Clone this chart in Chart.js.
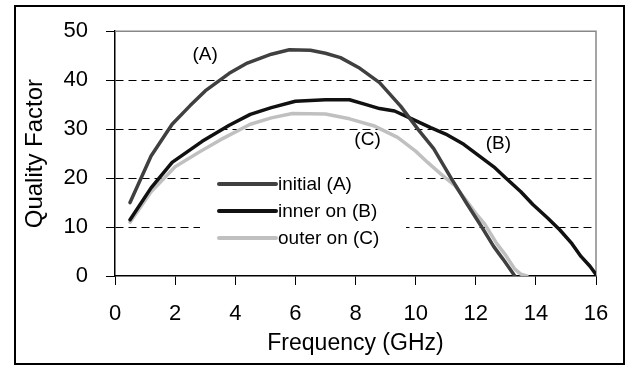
<!DOCTYPE html>
<html>
<head>
<meta charset="utf-8">
<script src="https://cdn.jsdelivr.net/npm/chart.js@4.4.1/dist/chart.umd.min.js"></script>
<style>
  body { margin: 0; background: #fff; }
  #wrap { width: 629px; height: 367px; }
</style>
</head>
<body>
<div id="wrap"><canvas id="myChart" width="629" height="367"></canvas></div>
<script>
// values
const freqA = [0.5, 1.2, 1.9, 2.5, 3.0, 3.8, 4.4, 5.2, 5.8, 6.5, 7.0, 7.5, 8.1, 8.8, 9.5, 10.1, 10.6, 11.2, 11.7, 12.2, 12.6, 12.9, 13.3];
const qA =    [15, 24.5, 31, 34.8, 37.8, 41.4, 43.5, 45.3, 46.2, 46.1, 45.5, 44.6, 42.6, 39.5, 34.7, 29.8, 26, 19.8, 14.8, 10, 6, 3.5, 0];

const freqB = [0.5, 1.2, 1.9, 2.9, 3.8, 4.5, 5.2, 6.0, 7.0, 7.8, 8.3, 8.8, 9.3, 9.8, 10.5, 11.0, 11.6, 12.1, 12.6, 13.0, 13.5, 13.9, 14.4, 14.8, 15.2, 15.5, 15.8, 16.0];
const qB =    [11.5, 18, 23.2, 27.5, 30.8, 33, 34.4, 35.7, 36, 36, 35.1, 34.2, 33.7, 32.3, 30.3, 29, 26.9, 24.6, 22.3, 20, 17.2, 14.6, 11.8, 9.4, 6.6, 4, 2, 0.3];

const freqC = [0.5, 1.2, 2.0, 2.8, 3.5, 4.5, 5.2, 5.9, 7.0, 7.8, 8.6, 9.4, 10.0, 10.4, 10.9, 11.3, 11.7, 12.0, 12.3, 12.7, 13.0, 13.3, 13.5, 13.7];
const qC =    [11, 17.2, 22.3, 25.3, 27.8, 31, 32.3, 33.2, 33.1, 32.1, 30.7, 28.3, 25.5, 23.2, 20.5, 18.5, 15.3, 12.8, 10.6, 6.6, 4.2, 1.4, 0.4, 0];

const seriesNames = ["initial (A)", "inner on (B)", "outer on (C)"];
const seriesColors = ["#404040", "#111111", "#c0c0c0"];

const xTicks = [0, 2, 4, 6, 8, 10, 12, 14, 16];
const yTicks = [0, 10, 20, 30, 40, 50];

// curve labels, in data units
const noteText = ["(A)", "(C)", "(B)"];
const noteX = [3.0, 8.4, 12.75];
const noteY = [45.2, 27.8, 27.0];

const FONT = "'Liberation Sans', Arial, sans-serif";

function toPoints(xs, ys) {
  return xs.map((x, i) => ({ x: x, y: ys[i] }));
}

const extras = {
  id: 'extras',
  beforeDatasetsDraw(chart) {
    const c = chart.ctx;
    const a = chart.chartArea;
    c.save();
    // gray top and right frame
    c.strokeStyle = '#888';
    c.lineWidth = 1.5;
    c.beginPath();
    c.moveTo(a.left, a.top);
    c.lineTo(a.right, a.top);
    c.lineTo(a.right, a.bottom);
    c.stroke();
    // legend box covers the grid
    c.fillStyle = '#fff';
    c.fillRect(200, 168, 206, 84);
    const rows = [184, 211, 238];
    c.font = '19px ' + FONT;
    c.textBaseline = 'middle';
    c.textAlign = 'left';
    seriesNames.forEach((name, i) => {
      c.strokeStyle = seriesColors[i];
      c.lineWidth = 4;
      c.lineCap = 'round';
      c.beginPath();
      c.moveTo(219, rows[i]);
      c.lineTo(276, rows[i]);
      c.stroke();
      c.fillStyle = '#000';
      c.fillText(name, 278, rows[i] + 1);
    });
    c.restore();
  },
  afterDatasetsDraw(chart) {
    const c = chart.ctx;
    const xs = chart.scales.x, ys = chart.scales.y;
    c.save();
    c.font = '19px ' + FONT;
    c.fillStyle = '#000';
    c.textAlign = 'center';
    c.textBaseline = 'middle';
    noteText.forEach((t, i) => {
      c.fillText(t, xs.getPixelForValue(noteX[i]), ys.getPixelForValue(noteY[i]));
    });
    c.restore();
  },
  afterDraw(chart) {
    const c = chart.ctx;
    c.save();
    c.strokeStyle = '#000';
    c.lineWidth = 2;
    c.strokeRect(15, 6, 609, 358);
    c.restore();
  }
};

const datasets = [
  toPoints(freqA, qA),
  toPoints(freqB, qB),
  toPoints(freqC, qC)
].map((pts, i) => ({
  label: seriesNames[i],
  data: pts,
  borderColor: seriesColors[i],
  backgroundColor: seriesColors[i],
  borderWidth: 3.5,
  pointRadius: 0,
  tension: 0,
  borderCapStyle: 'round',
  borderJoinStyle: 'round'
}));
// light curve sits under the others
datasets[2].order = 3; datasets[1].order = 2; datasets[0].order = 1;

new Chart(document.getElementById('myChart'), {
  type: 'line',
  data: { datasets: datasets },
  options: {
    responsive: false,
    animation: false,
    layout: { padding: { left: 16, right: 33, top: 27, bottom: 0 } },
    plugins: {
      legend: { display: false },
      tooltip: { enabled: false }
    },
    scales: {
      x: {
        type: 'linear',
        min: 0, max: 16,
        afterBuildTicks(s) { s.ticks = xTicks.map(v => ({ value: v })); },
        afterFit(s) { s.height = 91; },
        grid: { drawOnChartArea: false, drawTicks: true, tickLength: 9, tickColor: '#000', tickWidth: 1 },
        border: { color: '#000', width: 1.5 },
        ticks: { color: '#000', padding: 16, maxRotation: 0, font: { family: FONT, size: 22 } },
        title: { display: true, text: 'Frequency (GHz)', color: '#000', padding: { top: 0, bottom: 10 }, font: { family: FONT, size: 23 } }
      },
      y: {
        min: 0, max: 50,
        afterBuildTicks(s) { s.ticks = yTicks.map(v => ({ value: v })); },
        afterFit(s) { s.width = 99; },
        grid: {
          color: (ctx) => (ctx.tick && (ctx.tick.value === 50 || ctx.tick.value === 0)) ? 'rgba(0,0,0,0)' : '#000',
          lineWidth: 1,
          tickLength: 9,
          tickColor: '#000',
          tickBorderDash: []
        },
        border: { color: '#000', width: 1.5, dash: [8, 5] },
        ticks: { color: '#000', padding: 18, font: { family: FONT, size: 22 } },
        title: { display: true, text: 'Quality Factor', color: '#000', padding: { top: 5, bottom: 0 }, font: { family: FONT, size: 24 } }
      }
    }
  },
  plugins: [extras]
});
</script>
</body>
</html>
